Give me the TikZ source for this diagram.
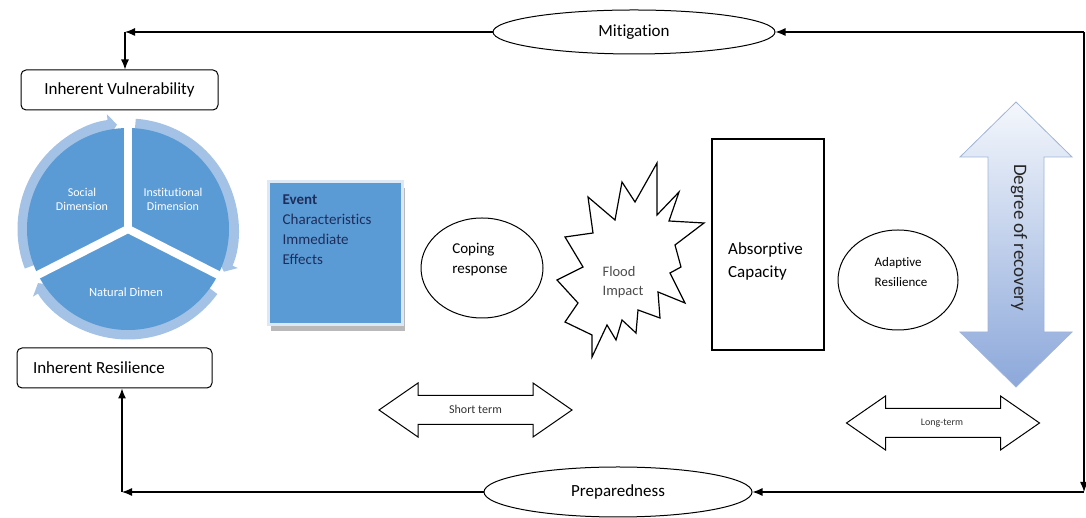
\documentclass[tikz,border=0pt]{standalone}
\usepackage{fontspec}
\setmainfont{Carlito}[Ligatures=NoCommon]
\usetikzlibrary{shapes.geometric,arrows.meta}

\definecolor{piefill}{RGB}{91,155,213}
\definecolor{ringfill}{RGB}{164,194,229}
\definecolor{evborder}{RGB}{220,232,246}
\definecolor{evtext}{RGB}{31,45,90}
\definecolor{recovtop}{RGB}{244,247,252}
\definecolor{recovbot}{RGB}{140,168,218}
\definecolor{recovline}{RGB}{160,180,214}

\begin{document}
\begin{tikzpicture}[x=1pt,y=1pt,
	arr/.style={line width=1.2pt,-{Latex[length=10pt,width=8pt]}},
	frame/.style={draw,rounded corners=5pt,line width=1pt,minimum height=40pt},
	oval/.style={draw,ellipse,line width=1pt,inner sep=0pt},
	big/.style={font=\fontsize{17}{22}\selectfont},
	mid/.style={font=\fontsize{15}{20}\selectfont},
	pietext/.style={text=white,align=center,font=\fontsize{12}{14}\selectfont}]
	\useasboundingbox (0,0) rectangle (1086,518);
	\def\cx{128}	%pie centre
	\def\cy{289}
	\def\r{101}	%radius of the three sectors

	%ring of curved arrows behind the pie
	\foreach \a/\b in {201/96, 86/-24, -36/-149}{
		\draw[ringfill,line width=11pt,-{Triangle[length=9pt,width=22pt]}] ({\cx+105*cos(\a)},{\cy+105*sin(\a)}) arc[start angle=\a,end angle=\b,radius=105];
	}
	\foreach \a/\b in {90/207, 207/333, 333/450}{
		\fill[piefill] (\cx,\cy) -- ++(\a:\r) arc[start angle=\a,end angle=\b,radius=\r] -- cycle;
	}
	\foreach \a in {90,207,333}{
		\draw[white,line width=8pt] (\cx,\cy) -- ++(\a:104);	%gaps between sectors
	}
	\node[pietext] (social) at (82,319) {Social\\Dimension};
	\node[pietext] (inst) at (173,319) {Institutional\\Dimension};
	\node[pietext,font=\fontsize{12.5}{14}\selectfont] (natural) at (126,226) {Natural Dimen};

	%boxes on the left
	\node[frame,big,minimum width=197pt] (vul) at (119.5,428) {Inherent Vulnerability};
	\node[frame,big,minimum width=195pt] (res) at (114.5,150) {\makebox[163pt][l]{Inherent Resilience}};

	%event box with its shadow
	\fill[gray!55] (271,187) rectangle (405,330);
	\node[draw=evborder,line width=3pt,fill=piefill,minimum width=134pt,minimum height=143pt] (ev) at (335,264.5) {};
	\node[mid,text=evtext,align=left,anchor=north west,inner sep=0pt] (evtxt) at ([xshift=16pt,yshift=-14pt]ev.north west) {\textbf{Event}\\Characteristics\\Immediate\\Effects};

	\node[oval,minimum width=122pt,minimum height=100pt] (cop) at (482,250) {};
	\node[mid,align=left] (coptxt) at (480,258.5) {Coping\\response};

	%flood impact star
	\draw[line width=1.2pt,fill=white] (557,238) -- (583,251) -- (565,281) -- (593,285) -- (588,321) -- (615,298) -- (622,336) -- (635,316) -- (657,355) -- (657,303) -- (679,326) -- (669,297) -- (704,295) -- (675,273) -- (681,251) -- (670,245) -- (685,215) -- (658,226) -- (660,200) -- (638,208) -- (636,185) -- (622,198) -- (616,178) -- (607,193) -- (592,161) -- (592,183) -- (565,196) -- (578,215) -- cycle;
	\node[align=left,text=black!70,font=\fontsize{14.5}{19}\selectfont] (flood) at (623,236) {Flood\\Impact};

	\node[draw,line width=1.2pt,minimum width=112pt,minimum height=211pt] (abs) at (768,273.5) {};
	\node[align=left,font=\fontsize{17}{23}\selectfont] (abstxt) at (765.5,256.5) {Absorptive\\Capacity};

	\node[oval,minimum width=120pt,minimum height=100pt] (adap) at (898,238) {};
	\node[align=left,font=\fontsize{13}{20}\selectfont] (adaptxt) at (901,246) {Adaptive\\Resilience};

	%degree of recovery arrow
	\shadedraw[top color=recovtop,bottom color=recovbot,draw=recovline,line width=0.8pt] (1016,416) -- (1072,361) -- (1044,361) -- (1044,186) -- (1072,186) -- (1016,131) -- (960,186) -- (988,186) -- (988,361) -- (960,361) -- cycle;
	\node[rotate=-90,text=black!85,font=\fontsize{19}{22}\selectfont] (recov) at (1019,280.5) {Degree of recovery};

	%short and long term arrows
	\foreach \x/\y in {475.5/108, 943/95}{
		\draw[line width=1pt,fill=white] ({\x-96.5},\y) -- ++(39,27) -- ++(0,-12.5) -- ++(115,0) -- ++(0,12.5) -- ++(39,-27) -- ++(-39,-27) -- ++(0,12.5) -- ++(-115,0) -- ++(0,-12.5) -- cycle;
	}
	\node[text=black!80,font=\fontsize{12}{14}\selectfont] (short) at (475.5,109) {Short term};
	\node[text=black!80,font=\fontsize{10}{12}\selectfont] (long) at (942,95) {Long-term};

	%feedback loop
	\node[oval,big,minimum width=282pt,minimum height=44pt] (mit) at (634,486) {Mitigation};
	\node[oval,big,minimum width=268pt,minimum height=50pt] (prep) at (618,26) {Preparedness};
	\coordinate (tl) at (125,486);
	\coordinate (tr) at (1084,486);
	\coordinate (br) at (1084,26);
	\coordinate (bl) at (122,26);
	\draw[arr] (tr) -- (mit.east);
	\draw[arr] (mit.west) -- (tl);
	\draw[arr] (tl) -- (tl |- vul.north);
	\draw[arr] (br) -- (prep.east);
	\draw[arr] (prep.west) -- (bl);
	\draw[arr] (bl) -- (bl |- res.south);
	\draw[arr,{Latex[length=10pt,width=8pt]}-] (br) -- (tr);	%both ends
\end{tikzpicture}
\end{document}
